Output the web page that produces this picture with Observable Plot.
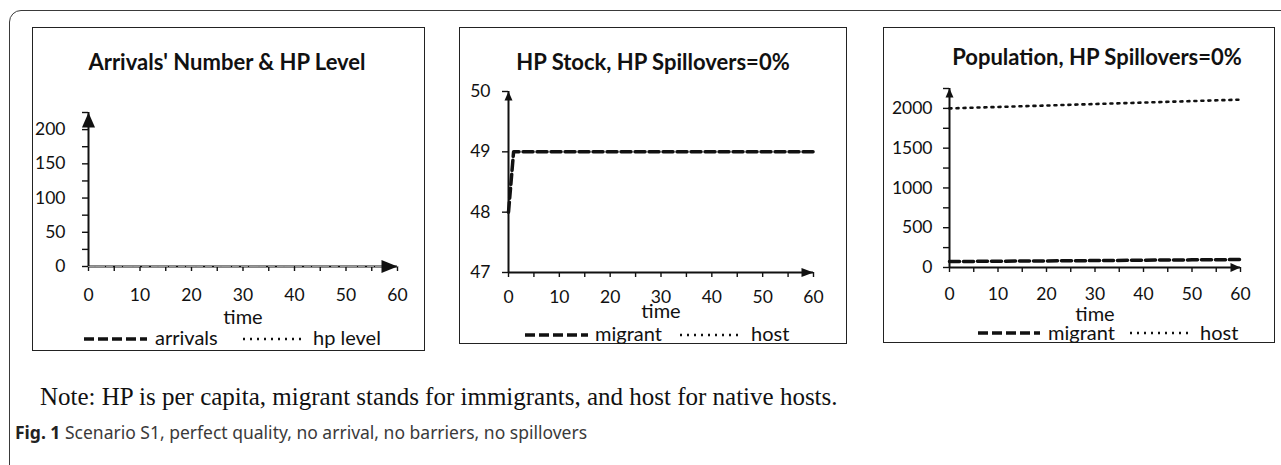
<!DOCTYPE html>
<html><head><meta charset="utf-8">
<script src="https://cdn.jsdelivr.net/npm/d3@7"></script>
<script src="https://cdn.jsdelivr.net/npm/@observablehq/plot@0.6"></script>
<style>
html,body{margin:0;padding:0;background:#fff;}
#page{position:relative;width:1281px;height:465px;overflow:hidden;background:#fff;}
.frame{position:absolute;left:9px;top:10px;width:1300px;height:480px;border:1.5px solid #3a3a3a;border-radius:12px;box-sizing:border-box;}
.panel{position:absolute;border:1.5px solid #222;box-sizing:border-box;}
.title{position:absolute;font-family:Lato,sans-serif;font-weight:bold;font-size:22px;line-height:1;white-space:nowrap;transform:translateX(-50%);color:#111;}
.leg{position:absolute;font-family:Lato,sans-serif;font-size:20px;line-height:1;white-space:nowrap;color:#111;}
.note{position:absolute;left:40px;top:384px;font-family:"Liberation Serif","Times New Roman",serif;font-size:25px;line-height:1;white-space:nowrap;color:#111;}
.cap{position:absolute;left:15px;top:424px;font-family:"Noto Sans",sans-serif;font-size:17.5px;line-height:1;white-space:nowrap;color:#3a3a3a;}
.cap b{color:#222;}
</style></head><body><div id="page"><div class="frame"></div></div>
<script>
// ---- data ----
const time = [0, 10, 20, 30, 40, 50, 60];
const arrivals = [0, 0, 0, 0, 0, 0, 0];
const hpLevel = [0, 0, 0, 0, 0, 0, 0];
const hpTime = [0, 1, 10, 20, 30, 40, 50, 60];
const hpMigrant = [48, 49, 49, 49, 49, 49, 49, 49];
const popMigrant = [75, 79, 83, 87, 92, 96, 100];
const popHost = [2000, 2018, 2036, 2055, 2073, 2092, 2110];
const xTicks = [0, 5, 10, 15, 20, 25, 30, 35, 40, 45, 50, 55, 60];
const xLabels = [0, 10, 20, 30, 40, 50, 60];
const y1Ticks = [0, 25, 50, 75, 100, 125, 150, 175, 200, 225];
const y1Labels = [0, 50, 100, 150, 200];
const y2Ticks = [47, 48, 49, 50];
const y3Ticks = [0, 250, 500, 750, 1000, 1250, 1500, 1750, 2000, 2250];
const y3Labels = [0, 500, 1000, 1500, 2000];
const titles = ["Arrivals' Number & HP Level", "HP Stock, HP Spillovers=0%", "Population, HP Spillovers=0%"];
const legends = [["arrivals", "hp level"], ["migrant", "host"], ["migrant", "host"]];

const DASH = "10,4", DOT = "2,5";
const page = document.getElementById("page");

function arrowSym(len, half) {
  return {draw(ctx) { ctx.moveTo(0, 0); ctx.lineTo(-len, -half); ctx.lineTo(-len, half); ctx.closePath(); }};
}

function buildPanel(cfg) {
  const box = document.createElement("div");
  box.className = "panel";
  Object.assign(box.style, {left: cfg.left + "px", top: cfg.top + "px", width: cfg.w + "px", height: cfg.h + "px"});
  page.appendChild(box);
  const y0 = cfg.yDomain[0], y1 = cfg.yDomain[1];
  const plot = Plot.plot({
    width: cfg.w, height: cfg.plotH,
    marginLeft: cfg.mL, marginRight: cfg.mR, marginTop: cfg.mT, marginBottom: cfg.mB,
    x: {domain: [0, 60]},
    y: {domain: cfg.yDomain},
    style: {fontFamily: "Lato, sans-serif", fontSize: "17.5px", color: "#111", background: "transparent", overflow: "visible"},
    marks: [
      Plot.axisX({ticks: xTicks, tickFormat: d => xLabels.includes(d) ? String(d) : "", tickSize: 5, tickPadding: cfg.xPad, label: null, strokeWidth: 1.4, fontSize: 17.5}),
      Plot.axisY({ticks: cfg.yTicks, tickFormat: d => cfg.yLabels.includes(d) ? String(d) : "", tickSize: 6, tickPadding: cfg.yPad, label: null, strokeWidth: 1.4, fontSize: 17.5}),
      Plot.ruleX([0], {stroke: "#111", strokeWidth: 2}),
      Plot.ruleY([y0], {stroke: "#111", strokeWidth: 2}),
      ...cfg.series,
      Plot.dot([{x: 60, y: y0}], {x: "x", y: "y", symbol: arrowSym(cfg.ax[0], cfg.ax[1]), fill: "#111", stroke: "none"}),
      Plot.dot([{x: 0, y: y1}], {x: "x", y: "y", symbol: arrowSym(cfg.ay[0], cfg.ay[1]), rotate: -90, fill: "#111", stroke: "none"}),
      Plot.text(["time"], {frameAnchor: "bottom", dy: cfg.timeDy, fontSize: 20, fill: "#111"})
    ]
  });
  Object.assign(plot.style, {position: "absolute", left: cfg.left + "px", top: cfg.top + "px"});
  page.appendChild(plot);

  const t = document.createElement("div");
  t.className = "title";
  t.textContent = cfg.title;
  Object.assign(t.style, {left: cfg.titleX + "px", top: (cfg.titleBase - 19.5) + "px"});
  page.appendChild(t);
}

buildPanel({
  left: 32, top: 27, w: 393, h: 324, plotH: 305, mL: 56, mR: 28, mT: 85, mB: 66,
  yDomain: [0, 225], yTicks: y1Ticks, yLabels: y1Labels, xPad: 17, yPad: 17, timeDy: 57,
  ax: [16, 6.5], ay: [15, 6.5], title: titles[0], titleX: 227, titleBase: 70,
  series: [
    Plot.line(time, {x: time, y: hpLevel, stroke: "#999", strokeWidth: 1.2, strokeDasharray: DOT}),
    Plot.line(time, {x: time, y: arrivals, stroke: "#999", strokeWidth: 1.2, strokeDasharray: "6,3"})
  ]
});
buildPanel({
  left: 459, top: 27, w: 388, h: 317, plotH: 300, mL: 49, mR: 34, mT: 64, mB: 55,
  yDomain: [47, 50], yTicks: y2Ticks, yLabels: y2Ticks, xPad: 13, yPad: 12, timeDy: 45,
  ax: [12, 4.5], ay: [9, 4], title: titles[1], titleX: 653, titleBase: 70,
  series: [
    Plot.line(hpTime, {x: hpTime, y: hpMigrant, stroke: "#111", strokeWidth: 3.5, strokeDasharray: DASH})
  ]
});
buildPanel({
  left: 883, top: 27, w: 392, h: 316, plotH: 300, mL: 66, mR: 35, mT: 61, mB: 60,
  yDomain: [0, 2250], yTicks: y3Ticks, yLabels: y3Labels, xPad: 15, yPad: 11, timeDy: 53,
  ax: [10, 4.5], ay: [9, 4], title: titles[2], titleX: 1097, titleBase: 65,
  series: [
    Plot.line(time, {x: time, y: popHost, stroke: "#111", strokeWidth: 2.6, strokeDasharray: DOT}),
    Plot.line(time, {x: time, y: popMigrant, stroke: "#111", strokeWidth: 3.5, strokeDasharray: DASH})
  ]
});

// ---- legends ----
const svgNS = "http://www.w3.org/2000/svg";
const ov = document.createElementNS(svgNS, "svg");
ov.setAttribute("width", 1281); ov.setAttribute("height", 465);
Object.assign(ov.style, {position: "absolute", left: "0px", top: "0px", pointerEvents: "none"});
page.appendChild(ov);
function swatch(x1, x2, y, dash, w) {
  const l = document.createElementNS(svgNS, "line");
  l.setAttribute("x1", x1); l.setAttribute("x2", x2); l.setAttribute("y1", y); l.setAttribute("y2", y);
  l.setAttribute("stroke", "#111"); l.setAttribute("stroke-width", w); l.setAttribute("stroke-dasharray", dash);
  ov.appendChild(l);
}
function legText(x, base, s) {
  const d = document.createElement("div");
  d.className = "leg"; d.textContent = s;
  Object.assign(d.style, {left: x + "px", top: (base - 17.7) + "px"});
  page.appendChild(d);
}
const legCfg = [
  {d: [84, 147], dt: 155, o: [243, 303], ot: 313, y: 339, base: 345},
  {d: [525, 588], dt: 595, o: [680, 742], ot: 751, y: 335, base: 341},
  {d: [978, 1040], dt: 1048, o: [1130, 1188], ot: 1200, y: 333, base: 340}
];
legCfg.forEach((c, i) => {
  swatch(c.d[0], c.d[1], c.y, DASH, 3.5);
  legText(c.dt, c.base, legends[i][0]);
  swatch(c.o[0], c.o[1], c.y, DOT, 2.4);
  legText(c.ot, c.base, legends[i][1]);
});

// ---- note & caption ----
const note = document.createElement("div");
note.className = "note";
note.textContent = "Note: HP is per capita, migrant stands for immigrants, and host for native hosts.";
page.appendChild(note);
const cap = document.createElement("div");
cap.className = "cap";
cap.innerHTML = "<b>Fig. 1</b> Scenario S1, perfect quality, no arrival, no barriers, no spillovers";
page.appendChild(cap);
</script>
</body></html>
